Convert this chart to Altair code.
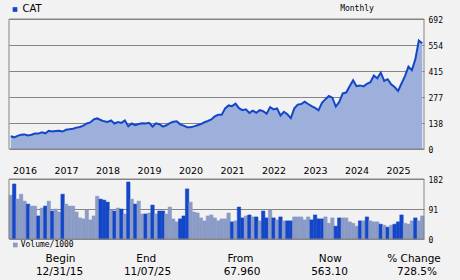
import json
import altair as alt
import pandas as pd

# ---------------- data ----------------
# monthly closes, Dec 2015 .. Nov 2025 (partial)
price = [
    67.96,
    62.2, 69.6, 76.5, 77.7, 72.5, 75.8, 82.8, 81.9, 88.8, 83.5, 96.7, 92.7,
    95.7, 96.7, 92.8, 102.3, 105.4, 107.5, 113.9, 117.5, 124.7, 135.8, 141.2, 157.6,
    162.8, 154.6, 147.4, 144.4, 151.9, 135.7, 143.8, 138.8, 152.5, 121.3, 135.7, 127.1,
    133.2, 137.5, 135.5, 139.4, 119.8, 136.3, 131.7, 119.0, 126.3, 137.8, 144.7, 147.7,
    131.4, 124.3, 116.0, 116.4, 120.4, 126.5, 132.9, 142.3, 149.2, 157.0, 173.6, 182.0,
    182.8, 216.3, 231.9, 228.1, 241.1, 217.6, 206.8, 210.9, 192.0, 204.0, 193.3, 206.7,
    201.6, 187.6, 222.8, 210.6, 216.1, 178.8, 198.3, 184.6, 164.1, 216.5, 236.4, 239.6,
    252.3, 239.6, 228.8, 218.8, 205.8, 246.1, 265.2, 281.9, 273.0, 226.1, 250.7, 295.7,
    300.3, 334.0, 366.4, 334.6, 338.5, 333.1, 346.7, 355.7, 391.1, 376.2, 406.0, 362.8,
    371.5, 344.4, 329.8, 309.3, 348.4, 388.2, 438.2, 419.6, 477.2, 577.3, 563.1,
]

volume = [
    133, 167, 121, 136, 115, 106, 100, 100, 70, 94, 100, 115,
    85, 91, 82, 136, 106, 100, 100, 82, 64, 61, 88, 58,
    70, 130, 121, 118, 112, 88, 85, 94, 91, 76, 173, 121,
    106, 115, 76, 76, 79, 103, 76, 85, 85, 76, 97, 61,
    52, 61, 70, 152, 112, 82, 79, 64, 55, 70, 73, 64,
    55, 61, 61, 79, 52, 55, 97, 64, 70, 73, 67, 67,
    55, 85, 64, 88, 64, 58, 67, 55, 55, 55, 67, 67,
    67, 58, 67, 58, 73, 61, 61, 67, 48, 64, 39, 64,
    64, 64, 52, 48, 39, 55, 55, 67, 55, 52, 52, 45,
    42, 36, 42, 45, 52, 73, 48, 45, 55, 64, 55, 70,
]

tone = [
    "L", "D", "L", "L", "L", "D", "L", "L", "D", "L", "D", "L",
    "D", "L", "L", "D", "L", "L", "L", "L", "L", "L", "L", "L",
    "L", "L", "D", "D", "D", "L", "D", "L", "D", "L", "D", "L",
    "D", "L", "L", "D", "L", "D", "L", "D", "D", "L", "L", "L",
    "L", "D", "D", "D", "L", "L", "L", "L", "L", "L", "L", "L",
    "L", "L", "L", "L", "D", "L", "D", "D", "L", "D", "L", "D",
    "L", "D", "D", "L", "D", "L", "D", "L", "D", "D", "L", "L",
    "L", "L", "L", "D", "D", "D", "D", "L", "L", "L", "D", "D",
    "L", "L", "L", "L", "L", "D", "L", "D", "L", "L", "L", "D",
    "L", "D", "L", "D", "D", "D", "L", "L", "L", "D", "L", "L",
]

year_labels = [str(y) for y in range(2016, 2026)]
price_ticks = [0, 138, 277, 415, 554, 692]
volume_ticks = [0, 91, 182]

symbol = "CAT"
period = "Monthly"
volume_label = "Volume/1000"
summary_heads = ["Begin", "End", "From", "Now", "% Change"]
summary_vals = ["12/31/15", "11/07/25", "67.960", "563.10", "728.5%"]

# ---------------- styles ----------------
DARK = "#1446c8"
LIGHT = "#8a9bc6"
FILL = "#9db0dc"
GRID = "#858585"
BG = "#f2f2f2"
SANS = "DejaVu Sans"
MONO = "DejaVu Sans Mono"

n = len(price)
df_p = pd.DataFrame({"slot": [i + 0.5 for i in range(n)], "price": price})
df_v = pd.DataFrame({
    "slot": list(range(n)),
    "slot_end": [i + 1 for i in range(n)],
    "volume": volume,
    "tone": tone,
})
dummy = pd.DataFrame({"d": [0]})

xs = alt.Scale(domain=[0, n], nice=False, zero=False)
ys_p = alt.Scale(domain=[0, 692], range=[130, 0], nice=False, zero=True)
ys_v = alt.Scale(domain=[0, 182], range=[220, 160], nice=False, zero=True)

x_axis = alt.Axis(
    values=[4.5 + 12 * i for i in range(len(year_labels))],
    labelExpr=json.dumps(year_labels) + "[floor(datum.value / 12)]",
    orient="bottom", offset=-68.5, domain=False, ticks=False, grid=False,
    labelPadding=0, labelBaseline="middle", labelFont=SANS, labelFontSize=9.5,
    labelColor="black", labelFlush=False, labelOverlap=False, title=None,
)


def y_axis(vals):
    return alt.Axis(
        orient="right", values=vals, grid=True, gridColor=GRID, gridOpacity=1,
        gridWidth=1, domain=False, ticks=False, labelFont=MONO, labelFontSize=8,
        labelColor="black", labelPadding=4, labelOffset=1.5, labelOverlap=False,
        labelFlush=False, title=None,
    )


X = lambda f: alt.X(f, type="quantitative", scale=xs, axis=x_axis)
tone_scale = alt.Scale(domain=["D", "L"], range=[DARK, LIGHT])

area = alt.Chart(df_p).mark_area(color=FILL, opacity=1).encode(
    x=X("slot"),
    y=alt.Y("price:Q", scale=ys_p, axis=y_axis(price_ticks)),
)
line = alt.Chart(df_p).mark_line(color=DARK, strokeWidth=2).encode(
    x=X("slot"),
    y=alt.Y("price:Q", scale=ys_p, axis=None),
)
frame_p = alt.Chart(dummy).mark_rect(filled=False, stroke=GRID, strokeWidth=1).encode(
    x=alt.XDatum(0, type="quantitative", scale=xs, axis=x_axis),
    x2=alt.X2Datum(n),
    y=alt.YDatum(0, type="quantitative", scale=ys_p, axis=None),
    y2=alt.Y2Datum(692),
)

bars = alt.Chart(df_v).mark_rect(strokeWidth=0.5).encode(
    x=X("slot"),
    x2="slot_end",
    y=alt.Y("volume:Q", scale=ys_v, axis=y_axis(volume_ticks)),
    y2=alt.Y2Datum(0),
    color=alt.Color("tone:N", scale=tone_scale, legend=None),
    stroke=alt.Stroke("tone:N", scale=tone_scale, legend=None),
)
frame_v = alt.Chart(dummy).mark_rect(filled=False, stroke=GRID, strokeWidth=1).encode(
    x=alt.XDatum(0, type="quantitative", scale=xs, axis=x_axis),
    x2=alt.X2Datum(n),
    y=alt.YDatum(0, type="quantitative", scale=ys_v, axis=None),
    y2=alt.Y2Datum(182),
)


def label(txt, x, y, font=SANS, size=10, align="center"):
    return alt.Chart(dummy).mark_text(
        text=txt, font=font, fontSize=size, align=align, baseline="middle", color="black"
    ).encode(x=alt.value(x), y=alt.value(y))


def square(x, y, color):
    return alt.Chart(dummy).mark_square(size=22, color=color, opacity=1).encode(
        x=alt.value(x), y=alt.value(y)
    )


texts = [
    square(6, -9.5, DARK),
    label(symbol, 13.5, -10, size=10, align="left"),
    label(period, 348, -10, font=MONO, size=8),
    square(6.3, 226, LIGHT),
    label(volume_label, 11.7, 226, font=MONO, size=8, align="left"),
]
head_x = [51.5, 137.3, 231.5, 321.3, 405]
val_x = [50.5, 138.5, 233, 320.5, 408]
for h, v, hx, vx in zip(summary_heads, summary_vals, head_x, val_x):
    texts.append(label(h, hx, 240, size=10.5))
    texts.append(label(v, vx, 253, size=10.5))

chart = alt.layer(area, line, frame_p, bars, frame_v, *texts).resolve_scale(
    y="independent"
).properties(
    width=415, height=220,
    padding={"left": 9, "top": 19, "right": 36, "bottom": 41},
    autosize=alt.AutoSizeParams(type="none"),
    background=BG,
).configure_view(stroke=None)

chart.save("out.html", embed_options={"renderer": "svg", "actions": False})
